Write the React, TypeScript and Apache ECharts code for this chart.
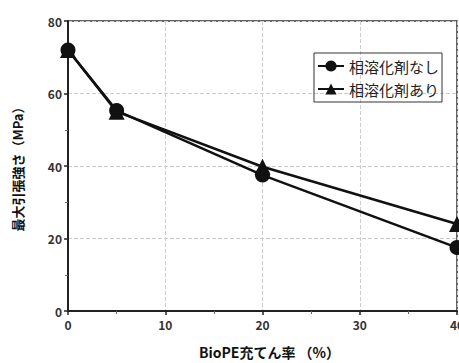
import React, { useEffect, useRef } from "react";
import * as echarts from "echarts";

const xValues = [0, 5, 20, 40];
const withoutCompat = [72, 55.3, 37.5, 17.5];
const withCompat = [72, 55, 39.8, 24];
const seriesNames = ["相溶化剤なし", "相溶化剤あり"];
const xAxisName = "BioPE充てん率 （%）";
const yAxisName = "最大引張強さ（MPa）";

const FONT = "'Noto Sans CJK JP', 'Noto Sans', sans-serif";

export default function App() {
  const ref = useRef<HTMLDivElement>(null);
  useEffect(() => {
    if (!ref.current) return;
    const chart = echarts.init(ref.current, null, { renderer: "svg" });
    const toPairs = (ys: number[]) => xValues.map((x, i) => [x, ys[i]]);
    chart.setOption({
      animation: false,
      backgroundColor: "#fff",
      textStyle: { fontFamily: FONT },
      grid: {
        left: 68,
        right: 2,
        top: 21,
        bottom: 52,
        outerBoundsMode: "none",
        containLabel: false,
        show: true,
        borderColor: "#333",
        borderWidth: 1.5,
      },
      legend: {
        right: 17,
        top: 53,
        orient: "vertical",
        itemGap: 7,
        itemWidth: 26,
        itemHeight: 14,
        borderColor: "#333",
        borderWidth: 1,
        borderRadius: 0,
        padding: [5, 3, 5, 3],
        textStyle: { fontSize: 15, lineHeight: 16, color: "#222", fontFamily: FONT },
        data: seriesNames,
      },
      xAxis: {
        type: "value",
        min: 0,
        max: 40,
        interval: 10,
        name: xAxisName,
        nameLocation: "middle",
        nameGap: 34,
        nameTextStyle: { fontSize: 14, fontWeight: "bold", color: "#111", padding: [0, 0, 0, 14] },
        axisLine: { show: true, lineStyle: { color: "#222", width: 2 } },
        axisTick: { show: true, inside: false, length: 4, lineStyle: { color: "#222", width: 1.5 } },
        minorTick: { show: true, splitNumber: 2, length: 3, lineStyle: { color: "#666" } },
        axisLabel: { fontSize: 12, fontWeight: "bold", color: "#333", margin: 7 },
        splitLine: { show: true, lineStyle: { color: "#ccc", type: "dashed", width: 1 } },
      },
      yAxis: {
        type: "value",
        min: 0,
        max: 80,
        interval: 20,
        name: yAxisName,
        nameLocation: "middle",
        nameGap: 44,
        nameTextStyle: { fontSize: 13, fontWeight: "bold", color: "#111" },
        axisLine: { show: true, lineStyle: { color: "#222", width: 2 } },
        axisTick: { show: true, inside: false, length: 4, lineStyle: { color: "#222", width: 1.5 } },
        minorTick: { show: true, splitNumber: 2, length: 3, lineStyle: { color: "#666" } },
        axisLabel: { fontSize: 12, fontWeight: "bold", color: "#333", margin: 6 },
        splitLine: { show: true, lineStyle: { color: "#ccc", type: "dashed", width: 1 } },
      },
      series: [
        {
          name: seriesNames[0],
          type: "line",
          data: toPairs(withoutCompat),
          symbol: "circle",
          symbolSize: 15,
          itemStyle: { color: "#111" },
          lineStyle: { color: "#111", width: 2.5 },
          z: 3,
        },
        {
          name: seriesNames[1],
          type: "line",
          data: toPairs(withCompat),
          symbol: "triangle",
          symbolSize: 16,
          itemStyle: { color: "#111" },
          lineStyle: { color: "#111", width: 2.5 },
          z: 2,
        },
      ],
    });
    return () => chart.dispose();
  }, []);
  return (
    <div
      ref={ref}
      style={{ position: "fixed", left: 0, top: 0, width: 459, height: 363 }}
    />
  );
}
